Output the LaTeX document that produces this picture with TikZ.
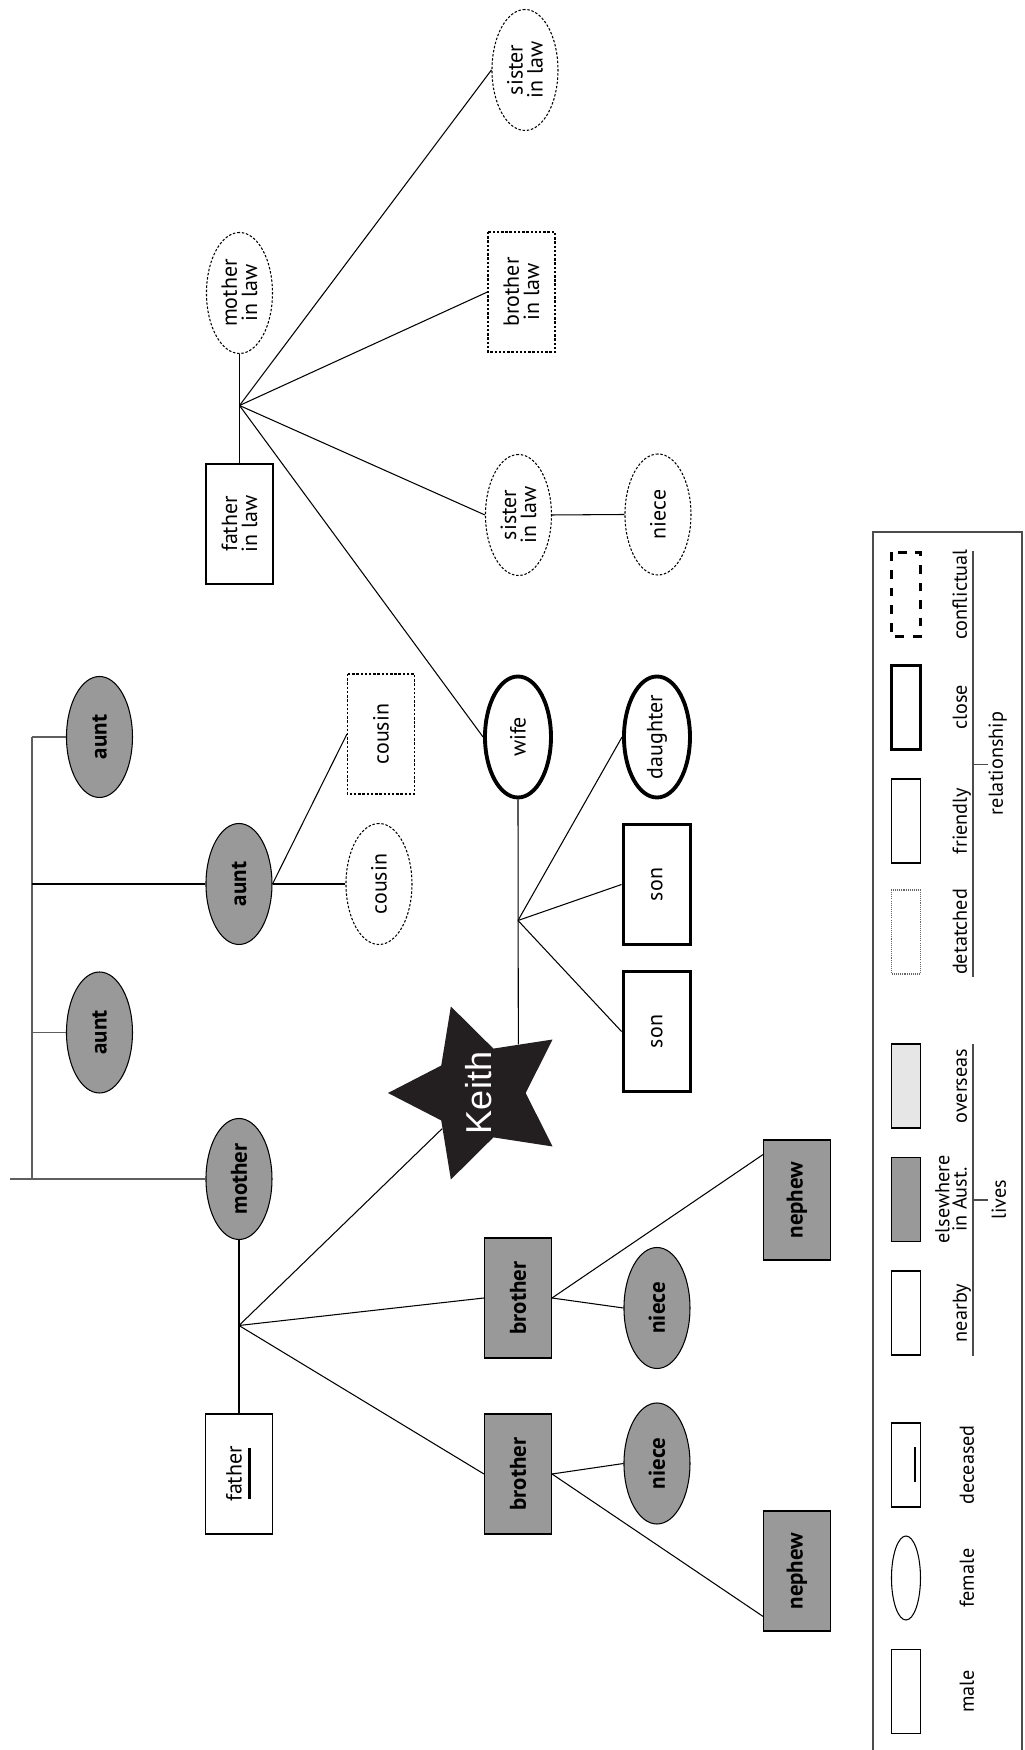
\documentclass[tikz,border=0pt]{standalone}
\usepackage{fontspec}
\setmainfont{PT Sans}
\newfontfamily\keithfont{Liberation Sans}
\usetikzlibrary{shapes.geometric,calc}
\definecolor{austgray}{RGB}{153,153,153}
\definecolor{overgray}{RGB}{230,230,230}
\definecolor{stardark}{RGB}{35,31,32}
\definecolor{trunkgray}{RGB}{95,95,95}

\tikzset{
  person/.style={draw, line width=0.6pt, inner sep=0pt, align=center, font=\fontsize{12.5}{11.5}\selectfont},
  man/.style={person, rectangle, minimum width=2.4cm, minimum height=1.34cm},
  woman/.style={person, ellipse, minimum width=2.42cm, minimum height=1.32cm},
  aust/.style={fill=austgray, font=\fontsize{13}{12}\selectfont\bfseries},
  closerel/.style={line width=2.2pt},
  distant/.style={dash pattern=on 1.4pt off 1pt},
  link/.style={line width=0.6pt},
  trunk/.style={line width=0.7pt, draw=trunkgray},
  deadbar/.style={line width=1.7pt},
  lbox/.style={draw, line width=0.6pt, rectangle, minimum width=1.68cm, minimum height=0.58cm, inner sep=0pt},
  ltext/.style={anchor=base, inner sep=0pt, font=\fontsize{11.5}{9.8}\selectfont, align=center}
}

\begin{document}
\begin{tikzpicture}[rotate=90, transform shape]
\useasboundingbox (0,0) rectangle (35,20.48);

% Mother's side
\node[woman, aust] (aunt1) at (20.26,18.49) {aunt};
\node[woman, aust] (aunt2) at (17.32,15.70) {aunt};
\node[woman, aust] (aunt3) at (14.35,18.49) {aunt};
\node[woman, aust] (mother) at (11.42,15.70) {mother};
\coordinate (edge) at (11.42,20.28);
\coordinate (stem) at (11.42,19.84);
\coordinate (br1) at (20.26,19.84);
\coordinate (br2) at (17.32,19.84);
\coordinate (br3) at (14.35,19.84);
\draw[trunk] (edge) -- (mother.north);
\draw[trunk] (stem) -- (br1);
\draw[trunk] (br1) -- (aunt1.north);
\draw[trunk] (br3) -- (aunt3.north);
\draw[link] (br2) -- (aunt2.north);

% Cousins
\node[woman, distant] (cousin1) at (17.32,12.90) {cousin};
\node[man, distant] (cousin2) at (20.32,12.86) {cousin};
\draw[link] (aunt2.south) -- (cousin1.north);
\draw[link] (aunt2.south) -- (cousin2.north);

% Parents and their children
\node[man, text depth=0.2cm] (father) at (5.52,15.70) {father};
\draw[deadbar] ($(father.center)+(-0.51,-0.21)$) -- ++(1.02,0);
\coordinate (kids) at (8.49,15.70);
\draw[link] (mother.west) -- (father.east);
\node[star, star points=5, star point ratio=1.95, minimum size=3.64cm, inner sep=0pt,
      fill=stardark, text=white, font=\keithfont\fontsize{20.5}{20}\selectfont] (keith) at (13.14,10.9) {\makebox[0pt]{Keith}};
\node[man, aust] (brother1) at (9.04,10.12) {brother};
\node[man, aust] (brother2) at (5.52,10.12) {brother};
\draw[link] (kids) -- (keith);
\draw[link] (kids) -- (brother1.north);
\draw[link] (kids) -- (brother2.north);

% Brothers' children
\node[woman, aust] (niece1) at (8.84,7.34) {niece};
\node[woman, aust] (niece2) at (5.73,7.34) {niece};
\node[man, aust] (nephew1) at (11.0,4.54) {nephew};
\node[man, aust] (nephew2) at (3.58,4.54) {nephew};
\draw[link] (brother1.south) -- (niece1.north);
\draw[link] (brother1.south) -- ($(nephew1.north)!0.75!(nephew1.north east)$);
\draw[link] (brother2.south) -- (niece2.north);
\draw[link] (brother2.south) -- ($(nephew2.north)!0.75!(nephew2.north west)$);

% Wife and children
\node[woman, closerel] (wife) at (20.26,10.12) {wife};
\coordinate (ours) at (16.59,10.12);
\draw[link] (wife.west) -- (keith.-39);
\node[man, closerel] (son1) at (14.37,7.34) {son};
\node[man, closerel] (son2) at (17.31,7.34) {son};
\node[woman, closerel] (daughter) at (20.26,7.34) {daughter};
\foreach \n in {son1,son2,daughter}
  \draw[link] (ours) -- (\n.north);

% In-laws
\node[man] (fil) at (24.52,15.69) {father\\in law};
\node[woman, distant] (mil) at (29.14,15.69) {mother\\in law};
\coordinate (inlaws) at (26.89,15.69);
\draw[link] (fil.east) -- (mil.west);
\node[woman, distant] (sil1) at (33.6,9.98) {sister\\in law};
\node[man, distant] (bil) at (29.16,10.05) {brother\\in law};
\node[woman, distant] (sil2) at (24.7,10.11) {sister\\in law};
\node[woman, distant] (niece3) at (24.71,7.32) {niece};
\foreach \n in {sil1,bil,sil2,wife}
  \draw[link] (inlaws) -- (\n.north);
\draw[link] (sil2.south) -- (niece3.north);

% Legend
\draw[line width=0.9pt, draw=black!70] (0,3.02) -- (24.36,3.02) -- (24.36,0.04) -- (0,0.04);
\node[lbox] (lmale) at (1.17,2.36) {};
\node[lbox, ellipse] (lfemale) at (3.44,2.36) {};
\node[lbox] (ldead) at (5.7,2.36) {};
\draw[deadbar] ($(ldead.center)+(-0.35,-0.18)$) -- ++(0.7,0);
\node[lbox] (lnear) at (8.74,2.36) {};
\node[lbox, fill=austgray] (lelse) at (11.01,2.36) {};
\node[lbox, fill=overgray] (lover) at (13.28,2.36) {};
\node[lbox, draw=black!60, dash pattern=on 0.6pt off 0.6pt] (ldet) at (16.36,2.36) {};
\node[lbox] (lfriend) at (18.58,2.36) {};
\node[lbox, line width=2.2pt] (lclose) at (20.85,2.36) {};
\node[lbox, line width=1.2pt, dash pattern=on 5pt off 5pt] (lconf) at (23.11,2.36) {};

\node[ltext] at (1.17,1.0) {male};
\node[ltext] at (3.44,1.0) {female};
\node[ltext] at (5.7,1.0) {deceased};
\node[ltext] at (8.74,1.14) {nearby};
\node[ltext, anchor=center] at (11.01,1.46) {elsewhere\\in Aust.};
\node[ltext] at (13.28,1.14) {overseas};
\node[ltext] at (16.36,1.14) {detatched};
\node[ltext] at (18.58,1.14) {friendly};
\node[ltext] at (20.85,1.14) {close};
\node[ltext] at (23.11,1.14) {conflictual};

% Group labels
\draw[link, draw=black!70] (7.88,1.02) -- (14.12,1.02);
\draw[link, draw=black!70] (11.0,1.02) -- (11.0,0.72);
\node[ltext] at (11.0,0.36) {lives};
\draw[link, draw=black!70] (15.46,1.02) -- (23.98,1.02);
\draw[link, draw=black!70] (19.71,1.02) -- (19.71,0.72);
\node[ltext] at (19.73,0.42) {relationship};
\end{tikzpicture}
\end{document}
